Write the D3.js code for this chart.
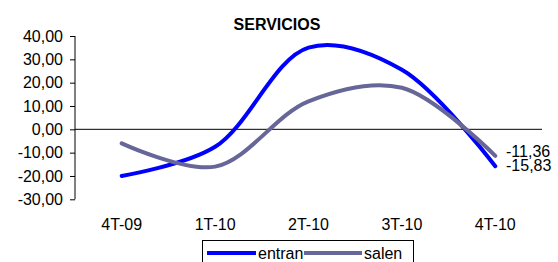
<!DOCTYPE html>
<html><head><meta charset="utf-8">
<script src="https://cdn.jsdelivr.net/npm/d3@7"></script>
<style>body{margin:0;background:#fff}svg{display:block}text{font-family:"Liberation Sans",Arial,sans-serif}</style>
</head><body>
<script>
const categories = ["4T-09","1T-10","2T-10","3T-10","4T-10"];
const entran = [-20, -7.5, 35, 25.5, -15.83];
const salen = [-6, -16, 12, 17.8, -11.36];
const yTicks = [40,30,20,10,0,-10,-20,-30];
const title = "SERVICIOS";
const seriesNames = ["entran","salen"];
const colors = ["#0000FF","#666699"];

const W=558,H=262;
const svg=d3.select("body").append("svg").attr("width",W).attr("height",H);
const x=d3.scalePoint().domain(categories).range([75,542]).padding(0.5);
const y=d3.scaleLinear().domain([-30,40]).range([199.3,36]);
const fmt=v=>d3.format(".2f")(v).replace(".",",").replace("−","-");

svg.append("text").attr("x",277).attr("y",30).attr("text-anchor","middle")
  .attr("font-weight","bold").attr("font-size",16).text(title);

const ya=svg.append("g").attr("transform","translate(75,0)")
  .call(d3.axisLeft(y).tickValues(yTicks).tickSize(5).tickPadding(7).tickFormat(fmt));
ya.selectAll("path").attr("stroke","#000");
ya.selectAll("text").attr("font-size",16).attr("fill","#000").attr("font-family",'"Liberation Sans",Arial,sans-serif');
ya.select(".domain").attr("d","M0,"+y(-30)+"V"+y(40));

svg.append("line").attr("x1",75).attr("x2",542).attr("y1",y(0)).attr("y2",y(0)).attr("stroke","#000");

svg.append("g").selectAll("text").data(categories).join("text")
  .attr("x",d=>x(d)).attr("y",230).attr("text-anchor","middle").attr("font-size",16).text(d=>d);

const line=d3.line().x((d,i)=>x(categories[i])).y(d=>y(d)).curve(d3.curveCatmullRom.alpha(0.5));
[entran,salen].forEach((s,k)=>{
  svg.append("path").attr("d",line(s)).attr("fill","none").attr("stroke",colors[k]).attr("stroke-width",4).attr("stroke-linecap","round");
});
svg.append("text").attr("x",506).attr("y",y(salen[4])+1).attr("font-size",16).text(fmt(salen[4]));
svg.append("text").attr("x",506).attr("y",y(entran[4])+5).attr("font-size",16).text(fmt(entran[4]));

const lg=svg.append("g");
lg.append("rect").attr("x",202.5).attr("y",240.5).attr("width",211).attr("height",40).attr("fill","none").attr("stroke","#000");
const lx=[[207,256,258],[304,362,364]];
seriesNames.forEach((n,k)=>{
  lg.append("line").attr("x1",lx[k][0]).attr("x2",lx[k][1]).attr("y1",253).attr("y2",253).attr("stroke",colors[k]).attr("stroke-width",4);
  lg.append("text").attr("x",lx[k][2]).attr("y",259).attr("font-size",16).text(n);
});
</script>
</body></html>
